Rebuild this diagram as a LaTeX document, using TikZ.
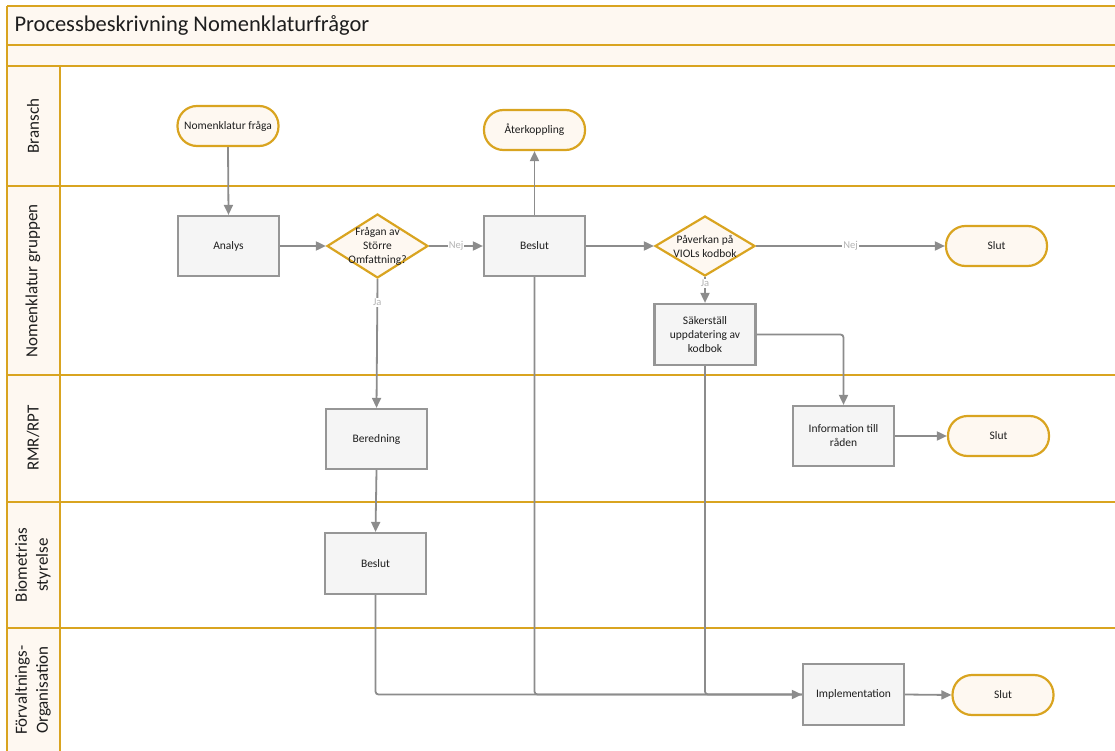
\documentclass[tikz,border=0pt]{standalone}
\usepackage{fontspec}
\setmainfont{Carlito}
\usetikzlibrary{arrows.meta,shapes.geometric}
\definecolor{gold}{RGB}{217,164,32}
\definecolor{cream}{RGB}{254,248,241}
\definecolor{boxf}{RGB}{245,245,245}
\definecolor{boxb}{RGB}{150,150,150}
\definecolor{linec}{RGB}{140,140,140}
\definecolor{lblc}{RGB}{180,180,180}
\definecolor{textc}{RGB}{30,30,30}
\begin{document}
\begin{tikzpicture}[x=1pt,y=-1pt,
  lane/.style={draw=gold, line width=2.2pt},
  term/.style={draw=gold, line width=2.2pt, fill=cream, rounded corners=19.5pt,
    minimum width=101pt, minimum height=40pt, inner sep=0pt,
    font=\fontsize{11.5}{13.5}\selectfont, text=textc},
  proc/.style={draw=boxb, line width=2.2pt, fill=boxf, minimum width=101pt,
    minimum height=60pt, inner sep=0pt, align=center,
    font=\fontsize{11.5}{14}\selectfont, text=textc},
  dec/.style={diamond, draw=gold, line width=2.2pt, fill=cream,
    minimum width=101pt, minimum height=64pt, inner sep=0pt},
  dectext/.style={align=center, font=\fontsize{11.5}{14}\selectfont, text=textc},
  conn/.style={draw=linec, line width=1.8pt, -{Triangle[length=10pt,width=9pt]}},
  plain/.style={draw=linec, line width=1.8pt},
  lbl/.style={fill=white, text=lblc, font=\fontsize{10.5}{12}\selectfont, inner sep=1pt},
  lanelbl/.style={rotate=90, align=center, font=\fontsize{17}{21}\selectfont, text=textc}
]
\useasboundingbox (0,0) rectangle (1115,751);
\clip (0,0) rectangle (1115,751);

% swimlane frame
\fill[cream] (7,6) rectangle (1125,66);
\fill[cream] (7,66) rectangle (60,760);
\draw[lane] (7,6) -- (1125,6);
\draw[lane] (7,45) -- (1125,45);
\draw[lane] (7,66) -- (1125,66);
\foreach \yy in {186,375,502,628} { \draw[lane] (7,\yy) -- (1125,\yy); }
\draw[lane] (7,6) -- (7,760);
\draw[lane] (60,66) -- (60,760);

\node[anchor=west, font=\fontsize{22.5}{26}\selectfont, text=textc] (title) at (11,25.5) {Processbeskrivning Nomenklaturfrågor};

\node[lanelbl] (l1) at (33,126) {Bransch};
\node[lanelbl] (l2) at (33,281) {Nomenklatur gruppen};
\node[lanelbl] (l3) at (33,438) {RMR/RPT};
\node[lanelbl] (l4) at (33,565) {Biometrias\\styrelse};
\node[lanelbl] (l5) at (33,690) {Förvaltnings-\\Organisation};

% nodes
\node[term] (nf) at (228,126) {Nomenklatur fråga};
\node[term] (ak) at (534.5,130) {Återkoppling};
\node[proc] (an) at (228.5,246) {Analys};
\node[dec, label={[dectext]center:Frågan av\\Större\\Omfattning?}] (d1) at (377.5,246) {};
\node[proc] (b1) at (534.5,246) {Beslut};
\node[dec, minimum width=100pt, minimum height=60pt, label={[dectext]center:Påverkan på\\VIOLs kodbok}] (d2) at (705,246) {};
\node[term] (s1) at (996.5,246) {Slut};
\node[proc, minimum height=61pt] (sak) at (705,334.5) {Säkerställ\\uppdatering av\\kodbok};
\node[proc] (info) at (843.5,436) {Information till\\råden};
\node[term] (s2) at (998.5,436) {Slut};
\node[proc] (ber) at (376.5,439) {Beredning};
\node[proc, minimum height=61pt] (bs2) at (375.5,563.5) {Beslut};
\node[proc, minimum height=61pt] (impl) at (853.5,694.5) {Implementation};
\node[term] (s3) at (1003,695) {Slut};

% connectors
\draw[conn] (nf.south) -- (an.north);
\draw[conn] (an.east) -- (d1.west);
\draw[conn] (d1.east) -- node[lbl]{Nej} (b1.west);
\draw[conn] (d1.south) -- node[lbl, pos=0.18]{Ja} (ber.north);
\draw[conn] (b1.north) -- (ak.south);
\draw[conn] (b1.east) -- (d2.west);
\draw[conn] (d2.east) -- node[lbl]{Nej} (s1.west);
\draw[conn] (d2.south) -- node[lbl, pos=0.25]{Ja} (sak.north);
\draw[conn, rounded corners=3pt] (sak.east) -| (info.north);
\draw[conn] (info.east) -- (s2.west);
\draw[conn] (ber.south) -- (bs2.north);
\draw[plain, rounded corners=3pt] (b1.south) |- (impl.west);
\draw[plain, rounded corners=3pt] (sak.south) |- (impl.west);
\draw[conn, rounded corners=3pt] (bs2.south) |- (impl.west);
\draw[conn] (impl.east) -- (s3.west);
\end{tikzpicture}
\end{document}
